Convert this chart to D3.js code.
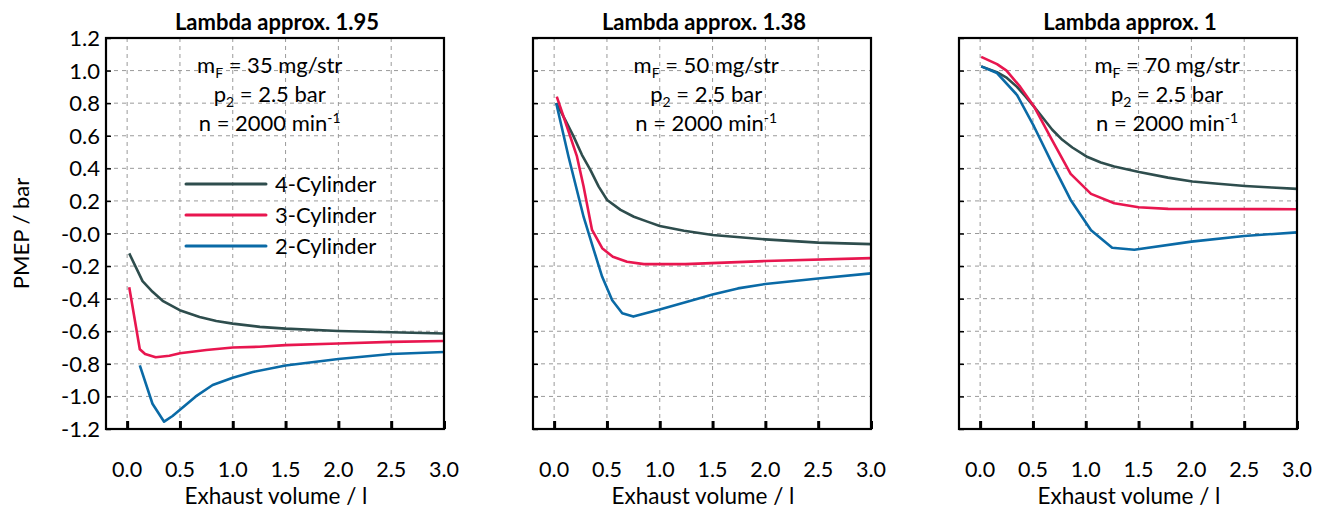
<!DOCTYPE html>
<html><head><meta charset="utf-8">
<script src="https://cdn.jsdelivr.net/npm/d3@7"></script>
<style>
html,body{margin:0;padding:0;background:#fff;}
text{font-family:Lato,"Open Sans",sans-serif;fill:#000;}
</style></head>
<body><svg id="chart" width="1324" height="512"></svg>
<script>
// ---------- data ----------
const titles = ["Lambda approx. 1.95", "Lambda approx. 1.38", "Lambda approx. 1"];
const fuelMass = ["35", "50", "70"];
const seriesNames = ["4-Cylinder", "3-Cylinder", "2-Cylinder"];
const seriesColors = ["#2e4d4d", "#e8164f", "#0a6aa6"];
const xTicks = [0, 0.5, 1.0, 1.5, 2.0, 2.5, 3.0];
const yTicks = [-1.2, -1.0, -0.8, -0.6, -0.4, -0.2, 0, 0.2, 0.4, 0.6, 0.8, 1.0, 1.2];
const yTickLabels = ["-1.2","-1.0","-0.8","-0.6","-0.4","-0.2","-0.0","0.2","0.4","0.6","0.8","1.0","1.2"];

// Panel 1 (lambda 1.95)
const p1_cyl4_x = [0.02, 0.146, 0.241, 0.336, 0.498, 0.686, 0.844, 1.0, 1.257, 1.5, 2.0, 2.5, 3.0];
const p1_cyl4_y = [-0.122, -0.292, -0.358, -0.413, -0.471, -0.512, -0.537, -0.553, -0.573, -0.584, -0.598, -0.606, -0.614];
const p1_cyl3_x = [0.02, 0.12, 0.17, 0.27, 0.4, 0.5, 0.75, 1.0, 1.25, 1.5, 2.0, 2.5, 3.0];
const p1_cyl3_y = [-0.33, -0.71, -0.74, -0.76, -0.75, -0.735, -0.715, -0.70, -0.695, -0.685, -0.675, -0.665, -0.66];
const p1_cyl2_x = [0.12, 0.24, 0.35, 0.43, 0.65, 0.81, 1.0, 1.19, 1.5, 2.0, 2.5, 3.0];
const p1_cyl2_y = [-0.81, -1.045, -1.155, -1.12, -1.0, -0.93, -0.885, -0.85, -0.81, -0.77, -0.74, -0.727];

// Panel 2 (lambda 1.38)
const p2_cyl4_x = [0.019, 0.105, 0.184, 0.263, 0.343, 0.422, 0.502, 0.629, 0.755, 0.883, 1.0, 1.23, 1.5, 2.0, 2.5, 3.0];
const p2_cyl4_y = [0.801, 0.698, 0.596, 0.483, 0.391, 0.288, 0.206, 0.145, 0.103, 0.073, 0.046, 0.017, -0.009, -0.036, -0.056, -0.065];
const p2_cyl3_x = [0.025, 0.121, 0.216, 0.279, 0.359, 0.455, 0.556, 0.69, 0.85, 1.24, 2.0, 3.0];
const p2_cyl3_y = [0.84, 0.657, 0.473, 0.288, 0.022, -0.09, -0.143, -0.173, -0.188, -0.188, -0.169, -0.151];
const p2_cyl2_x = [0.02, 0.137, 0.28, 0.375, 0.455, 0.55, 0.645, 0.75, 1.0, 1.36, 1.5, 1.74, 2.0, 2.5, 3.0];
const p2_cyl2_y = [0.80, 0.47, 0.10, -0.10, -0.266, -0.41, -0.49, -0.51, -0.467, -0.40, -0.374, -0.337, -0.31, -0.276, -0.245];

// Panel 3 (lambda 1)
const p3_cyl4_x = [0.01, 0.159, 0.254, 0.349, 0.429, 0.508, 0.603, 0.683, 0.778, 0.873, 1.006, 1.143, 1.27, 1.505, 1.778, 2.01, 2.254, 2.508, 2.762, 3.0];
const p3_cyl4_y = [1.026, 0.990, 0.955, 0.900, 0.842, 0.780, 0.703, 0.637, 0.575, 0.528, 0.473, 0.436, 0.411, 0.377, 0.343, 0.319, 0.305, 0.292, 0.282, 0.274];
const p3_cyl3_x = [0.01, 0.16, 0.25, 0.38, 0.51, 0.68, 0.857, 1.05, 1.27, 1.5, 1.78, 3.0];
const p3_cyl3_y = [1.084, 1.04, 1.0, 0.90, 0.78, 0.575, 0.366, 0.243, 0.186, 0.161, 0.151, 0.149];
const p3_cyl2_x = [0.01, 0.16, 0.35, 0.51, 0.68, 0.857, 1.05, 1.25, 1.46, 2.0, 2.5, 3.0];
const p3_cyl2_y = [1.026, 0.985, 0.85, 0.657, 0.432, 0.206, 0.02, -0.087, -0.10, -0.05, -0.015, 0.007];

const panelSeries = [
  [[p1_cyl4_x, p1_cyl4_y], [p1_cyl3_x, p1_cyl3_y], [p1_cyl2_x, p1_cyl2_y]],
  [[p2_cyl4_x, p2_cyl4_y], [p2_cyl3_x, p2_cyl3_y], [p2_cyl2_x, p2_cyl2_y]],
  [[p3_cyl4_x, p3_cyl4_y], [p3_cyl3_x, p3_cyl3_y], [p3_cyl2_x, p3_cyl2_y]]
];
// annotation centre in data x units
const annotX = [1.35, 1.44, 1.77];

// ---------- layout ----------
const svg = d3.select("#chart");
const panelLeft = [106, 533, 959];
const pw = 338, plotTop = 38, plotBottom = 429;

panelLeft.forEach((L, pi) => {
  const x = d3.scaleLinear().domain([-0.2, 3.0]).range([L, L + pw]);
  const y = d3.scaleLinear().domain([-1.2, 1.2]).range([plotBottom, plotTop]);
  const g = svg.append("g");

  // grid
  g.selectAll(".vg").data(xTicks.slice(0, -1)).join("line")
    .attr("x1", d => x(d)).attr("x2", d => x(d)).attr("y1", plotTop).attr("y2", plotBottom)
    .attr("stroke", "#9a9a9a").attr("stroke-width", 1).attr("stroke-dasharray", "4,4");
  g.selectAll(".hg").data(yTicks.slice(1, -1)).join("line")
    .attr("x1", L).attr("x2", L + pw).attr("y1", d => y(d)).attr("y2", d => y(d))
    .attr("stroke", "#9a9a9a").attr("stroke-width", 1).attr("stroke-dasharray", "4,4");

  // axes (inward ticks)
  const xAxis = d3.axisBottom(x).tickValues(xTicks).tickSize(-8).tickFormat("");
  const xg = g.append("g").attr("transform", `translate(0,${plotBottom})`).call(xAxis);
  xg.select(".domain").remove();
  xg.selectAll(".tick line").attr("stroke", "#000").attr("stroke-width", 3);
  const yAxis = d3.axisLeft(y).tickValues(yTicks).tickSize(-5).tickFormat("");
  const yg = g.append("g").attr("transform", `translate(${L},0)`).call(yAxis);
  yg.select(".domain").remove();
  yg.selectAll(".tick line").attr("stroke", "#000").attr("stroke-width", 1.5);

  // x tick labels (well below axis)
  g.selectAll(".xl").data(xTicks).join("text")
    .attr("x", d => x(d)).attr("y", 477).attr("text-anchor", "middle")
    .attr("font-size", 21.5).text(d => d.toFixed(1));
  g.append("text").attr("x", L + pw / 2 + 1).attr("y", 504).attr("text-anchor", "middle")
    .attr("font-size", 22.5).text("Exhaust volume / l");

  if (pi === 0) {
    g.selectAll(".yl").data(yTicks).join("text")
      .attr("x", L - 6).attr("y", d => y(d) + 8).attr("text-anchor", "end")
      .attr("font-size", 22).text((d, i) => yTickLabels[i]);
    g.append("text").attr("transform", `translate(29,${(plotTop + plotBottom) / 2}) rotate(-90)`)
      .attr("text-anchor", "middle").attr("font-size", 22).text("PMEP / bar");
  }

  // title
  g.append("text").attr("x", L + pw / 2 + 2).attr("y", 30).attr("text-anchor", "middle")
    .attr("font-size", 22).attr("font-weight", "bold").text(titles[pi]);

  // lines
  const line = d3.line().x(d => x(d[0])).y(d => y(d[1]));
  panelSeries[pi].forEach((s, si) => {
    const pts = s[0].map((xx, k) => [xx, s[1][k]]);
    g.append("path").datum(pts).attr("d", line).attr("fill", "none")
      .attr("stroke", seriesColors[si]).attr("stroke-width", 2.6)
      .attr("stroke-linejoin", "round");
  });

  // frame
  g.append("rect").attr("x", L).attr("y", plotTop).attr("width", pw).attr("height", plotBottom - plotTop)
    .attr("fill", "none").attr("stroke", "#000").attr("stroke-width", 2.2);

  // annotation
  const ax = x(annotX[pi]);
  const fs = 22;
  const t1 = g.append("text").attr("x", ax).attr("y", 73).attr("text-anchor", "middle").attr("font-size", fs);
  t1.append("tspan").text("m");
  t1.append("tspan").attr("font-size", 14).attr("dy", 5).text("F");
  t1.append("tspan").attr("dy", -5).text(" = " + fuelMass[pi] + " mg/str");
  const t2 = g.append("text").attr("x", ax).attr("y", 102).attr("text-anchor", "middle").attr("font-size", fs);
  t2.append("tspan").text("p");
  t2.append("tspan").attr("font-size", 14).attr("dy", 5).text("2");
  t2.append("tspan").attr("dy", -5).text(" = 2.5 bar");
  const t3 = g.append("text").attr("x", ax).attr("y", 131).attr("text-anchor", "middle").attr("font-size", fs);
  t3.append("tspan").text("n = 2000 min");
  t3.append("tspan").attr("font-size", 14).attr("dy", -8).text("-1");

  // legend (first panel only)
  if (pi === 0) {
    seriesNames.forEach((nm, si) => {
      const ly = 184 + si * 31;
      g.append("line").attr("x1", 186).attr("x2", 266).attr("y1", ly).attr("y2", ly)
        .attr("stroke", seriesColors[si]).attr("stroke-width", 3).attr("stroke-linecap", "round");
      g.append("text").attr("x", 275).attr("y", ly + 8).attr("font-size", 22).text(nm);
    });
  }
});
</script></body></html>
